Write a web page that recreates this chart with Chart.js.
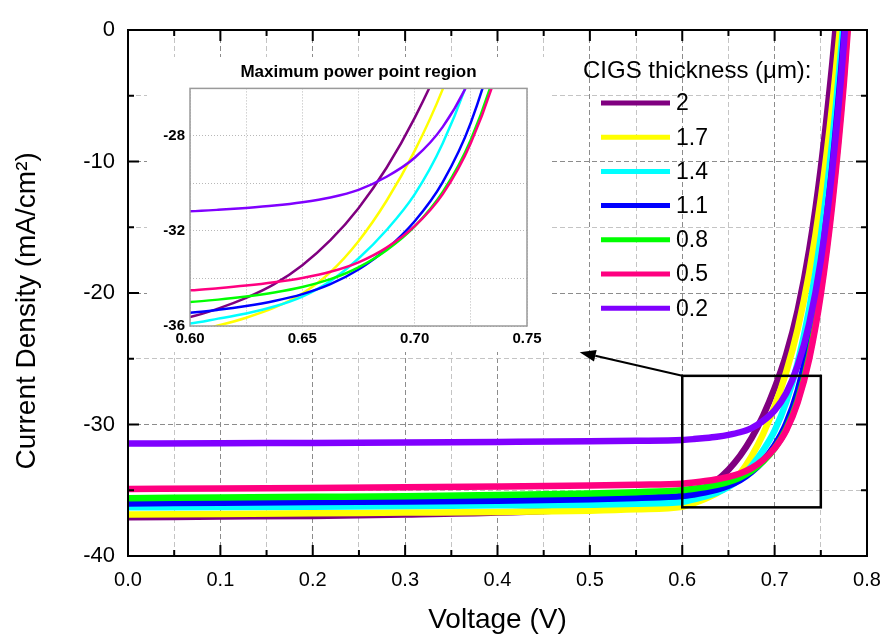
<!DOCTYPE html>
<html>
<head>
<meta charset="utf-8">
<script src="https://cdn.jsdelivr.net/npm/chart.js@4.4.0/dist/chart.umd.min.js"></script>
<style>
html,body{margin:0;padding:0;background:#fff;}
#wrap{position:relative;width:885px;height:635px;overflow:hidden;}
#main{position:absolute;left:0;top:0;}
#inset{position:absolute;left:147px;top:57px;background:#fff;}
</style>
</head>
<body>
<div id="wrap">
<canvas id="main" width="885" height="635"></canvas>
<canvas id="inset" width="405" height="295"></canvas>
</div>
<script>
// ---------------- data ----------------
const voltage = [0, 0.1, 0.2, 0.3, 0.4, 0.5, 0.55,
  0.6, 0.6125, 0.625, 0.6375, 0.65, 0.6625, 0.675, 0.6875,
  0.7, 0.7125, 0.725, 0.7375, 0.75, 0.7625, 0.775, 0.7875];

const current_2um   = [-37.05, -37.0, -36.95, -36.85, -36.7, -36.4, -36.1,
  -35.62, -35.27, -34.82, -34.24, -33.44, -32.39, -31.04, -29.34,
  -27.24, -24.69, -21.3, -16.7, -10.5, -2.5, 7.0, 18.0];
const current_1p7um = [-36.85, -36.8, -36.75, -36.7, -36.65, -36.55, -36.45,
  -36.25, -35.98, -35.65, -35.23, -34.63, -33.73, -32.43, -30.73,
  -28.63, -26.03, -22.73, -18.43, -12.83, -5.63, 3.37, 13.4];
const current_1p4um = [-36.3, -36.28, -36.25, -36.2, -36.15, -36.1, -36.02,
  -35.89, -35.69, -35.47, -35.18, -34.76, -34.11, -33.16, -31.96,
  -30.46, -28.31, -25.31, -21.21, -15.71, -8.41, 0.89, 11.9];
const current_1p1um = [-36.0, -35.95, -35.9, -35.85, -35.8, -35.68, -35.58,
  -35.44, -35.32, -35.16, -34.95, -34.66, -34.24, -33.62, -32.76,
  -31.59, -29.94, -27.44, -23.54, -17.94, -10.34, -0.54, 11.46];
const current_0p8um = [-35.6, -35.55, -35.5, -35.45, -35.37, -35.25, -35.15,
  -34.99, -34.89, -34.76, -34.59, -34.36, -34.03, -33.53, -32.81,
  -31.81, -30.36, -28.16, -24.76, -19.76, -12.76, -3.46, 8.54];
const current_0p5um = [-34.9, -34.87, -34.83, -34.78, -34.72, -34.64, -34.58,
  -34.5, -34.41, -34.3, -34.16, -33.98, -33.72, -33.32, -32.7,
  -31.8, -30.45, -28.3, -25.0, -20.1, -13.2, -4.0, 8.0];
const current_0p2um = [-31.45, -31.42, -31.4, -31.37, -31.33, -31.28, -31.24,
  -31.17, -31.11, -31.03, -30.93, -30.79, -30.59, -30.27, -29.72,
  -28.92, -27.62, -25.52, -22.32, -17.52, -10.52, -1.02, 11.0];

const thicknessLabels = ['2', '1.7', '1.4', '1.1', '0.8', '0.5', '0.2'];
const seriesValues = [current_2um, current_1p7um, current_1p4um, current_1p1um, current_0p8um, current_0p5um, current_0p2um];
const seriesColors = ['#800080', '#ffff00', '#00ffff', '#0000ff', '#00ff00', '#ff0080', '#8000ff'];

const legendTitle = 'CIGS thickness (\u03bcm):';
const xTitle = 'Voltage (V)';
const yTitle = 'Current Density (mA/cm\u00b2)';
const insetTitle = 'Maximum power point region';

// region of the main plot magnified in the inset, and where the arrow points
const zoomBox = {x0: 0.6, x1: 0.75, y0: -36.3, y1: -26.3};
const arrowTip = {x: 0.489, y: -24.5};

// ---------------- helpers ----------------
const FONT = '"Liberation Sans", Arial, sans-serif';
Chart.defaults.font.family = FONT;
Chart.defaults.color = '#000';

function isMult(v, step) {
  const r = v / step;
  return Math.abs(r - Math.round(r)) < 1e-6;
}

function makeDatasets(width) {
  return thicknessLabels.map((lab, i) => ({
    label: lab,
    data: voltage.map((v, k) => ({x: v, y: seriesValues[i][k]})),
    borderColor: seriesColors[i],
    backgroundColor: seriesColors[i],
    borderWidth: width,
    pointRadius: 0,
    fill: false,
    cubicInterpolationMode: 'monotone',
    order: thicknessLabels.length - i
  }));
}

function noPad(s) {
  s.paddingLeft = 0; s.paddingRight = 0; s.paddingTop = 0; s.paddingBottom = 0;
}

// frame with inward ticks
const framePlugin = {
  id: 'frameTicks',
  afterDatasetsDraw(chart, args, opts) {
    const {ctx, chartArea: a, scales} = chart;
    ctx.save();
    ctx.strokeStyle = opts.color || '#000';
    ctx.lineWidth = opts.width || 2;
    ctx.strokeRect(a.left, a.top, a.right - a.left, a.bottom - a.top);
    if (opts.ticks) {
      ctx.beginPath();
      scales.x.ticks.forEach(t => {
        const px = scales.x.getPixelForValue(t.value);
        if (px <= a.left + 1 || px >= a.right - 1) return;
        const len = isMult(t.value, opts.xMajor) ? 11 : 6;
        ctx.moveTo(px, a.bottom); ctx.lineTo(px, a.bottom - len);
        ctx.moveTo(px, a.top); ctx.lineTo(px, a.top + len);
      });
      scales.y.ticks.forEach(t => {
        const py = scales.y.getPixelForValue(t.value);
        if (py <= a.top + 1 || py >= a.bottom - 1) return;
        const len = isMult(t.value, opts.yMajor) ? 11 : 6;
        ctx.moveTo(a.left, py); ctx.lineTo(a.left + len, py);
        ctx.moveTo(a.right, py); ctx.lineTo(a.right - len, py);
      });
      ctx.stroke();
    }
    ctx.restore();
  }
};

// legend drawn inside the plot
const legendPlugin = {
  id: 'thicknessLegend',
  afterDraw(chart) {
    const ctx = chart.ctx;
    ctx.save();
    ctx.font = '24px ' + FONT;
    ctx.fillStyle = '#000';
    ctx.textBaseline = 'middle';
    ctx.textAlign = 'left';
    ctx.fillText(legendTitle, 583, 71);
    ctx.font = '23px ' + FONT;
    chart.data.datasets.forEach((ds, i) => {
      const y = 103 + i * 34.2;
      ctx.strokeStyle = ds.borderColor;
      ctx.lineWidth = 5;
      ctx.beginPath();
      ctx.moveTo(601, y); ctx.lineTo(670, y);
      ctx.stroke();
      ctx.fillText(ds.label, 676, y + 1);
    });
    ctx.restore();
  }
};

// zoom rectangle + arrow
const zoomBoxPlugin = {
  id: 'zoomBox',
  afterDatasetsDraw(chart) {
    const {ctx, scales: {x, y}} = chart;
    const l = x.getPixelForValue(zoomBox.x0), r = x.getPixelForValue(zoomBox.x1);
    const t = y.getPixelForValue(zoomBox.y1), b = y.getPixelForValue(zoomBox.y0);
    ctx.save();
    ctx.strokeStyle = '#000';
    ctx.lineWidth = 2.5;
    ctx.strokeRect(l, t, r - l, b - t);
    const tx = x.getPixelForValue(arrowTip.x), ty = y.getPixelForValue(arrowTip.y);
    const ang = Math.atan2(ty - t, tx - l);
    const hl = 16, hw = 6;
    const bx = tx - hl * Math.cos(ang), by = ty - hl * Math.sin(ang);
    ctx.lineWidth = 2;
    ctx.beginPath();
    ctx.moveTo(l, t); ctx.lineTo(bx, by);
    ctx.stroke();
    ctx.fillStyle = '#000';
    ctx.beginPath();
    ctx.moveTo(tx, ty);
    ctx.lineTo(bx + hw * Math.sin(ang), by - hw * Math.cos(ang));
    ctx.lineTo(bx - hw * Math.sin(ang), by + hw * Math.cos(ang));
    ctx.closePath();
    ctx.fill();
    ctx.restore();
  }
};

// ---------------- main chart ----------------
new Chart(document.getElementById('main'), {
  type: 'line',
  data: {datasets: makeDatasets(6.5)},
  options: {
    responsive: false,
    animation: false,
    devicePixelRatio: 1,
    layout: {padding: {top: 30, right: 18, left: 0, bottom: 0}},
    plugins: {
      legend: {display: false},
      tooltip: {enabled: false},
      frameTicks: {color: '#000', width: 2, ticks: true, xMajor: 0.1, yMajor: 10}
    },
    scales: {
      x: {
        type: 'linear', min: 0, max: 0.8,
        ticks: {
          stepSize: 0.05, autoSkip: false, maxRotation: 0, padding: 12,
          font: {size: 20}, color: '#000',
          callback: v => isMult(v, 0.1) ? v.toFixed(1) : ''
        },
        grid: {
          drawTicks: false, lineWidth: 1,
          color: c => (c.tick && isMult(c.tick.value, 0.1)) ? '#8c8c8c' : '#c4c4c4'
        },
        border: {display: false, dash: [5, 3]},
        title: {display: true, text: xTitle, color: '#000', font: {size: 28, lineHeight: 1}, padding: {top: 0, bottom: 1}},
        afterFit: s => { s.height = 79; noPad(s); }
      },
      y: {
        type: 'linear', min: -40, max: 0,
        ticks: {
          stepSize: 5, autoSkip: false, padding: 13,
          font: {size: 22}, color: '#000',
          callback: v => isMult(v, 10) ? String(v) : ''
        },
        grid: {
          drawTicks: false, lineWidth: 1,
          color: c => (c.tick && isMult(c.tick.value, 10)) ? '#8c8c8c' : '#c4c4c4'
        },
        border: {display: false, dash: [5, 3]},
        title: {display: true, text: yTitle + '\u2002\u2002 ', color: '#000', font: {size: 28, lineHeight: 1}, padding: {top: 13, bottom: 0}},
        afterFit: s => { s.width = 128; noPad(s); }
      }
    }
  },
  plugins: [framePlugin, zoomBoxPlugin, legendPlugin]
});

// ---------------- inset chart ----------------
new Chart(document.getElementById('inset'), {
  type: 'line',
  data: {datasets: makeDatasets(2.5)},
  options: {
    responsive: false,
    animation: false,
    devicePixelRatio: 1,
    layout: {padding: {top: 0, right: 25, left: 0, bottom: 0}},
    plugins: {
      legend: {display: false},
      tooltip: {enabled: false},
      title: {
        display: true, text: insetTitle, fullSize: false, color: '#000',
        font: {size: 17, weight: 'bold', lineHeight: 1.2}, padding: {top: 5, bottom: 6}
      },
      frameTicks: {color: '#9a9a9a', width: 1.5, ticks: false}
    },
    scales: {
      x: {
        type: 'linear', min: 0.6, max: 0.75,
        ticks: {
          stepSize: 0.025, autoSkip: false, maxRotation: 0, padding: 4,
          font: {size: 15, weight: 'bold'}, color: '#000',
          callback: v => isMult(v, 0.05) ? v.toFixed(2) : ''
        },
        grid: {drawTicks: false, lineWidth: 1, color: '#b8b8b8'},
        border: {display: false, dash: [1, 2]},
        afterFit: s => { s.height = 26; noPad(s); }
      },
      y: {
        type: 'linear', min: -36, max: -26,
        ticks: {
          stepSize: 2, autoSkip: false, padding: 5,
          font: {size: 15, weight: 'bold'}, color: '#000',
          callback: v => isMult(v + 28, 4) ? String(v) : ''
        },
        grid: {drawTicks: false, lineWidth: 1, color: '#b8b8b8'},
        border: {display: false, dash: [1, 2]},
        afterFit: s => { s.width = 43; noPad(s); }
      }
    }
  },
  plugins: [framePlugin]
});
</script>
</body>
</html>
